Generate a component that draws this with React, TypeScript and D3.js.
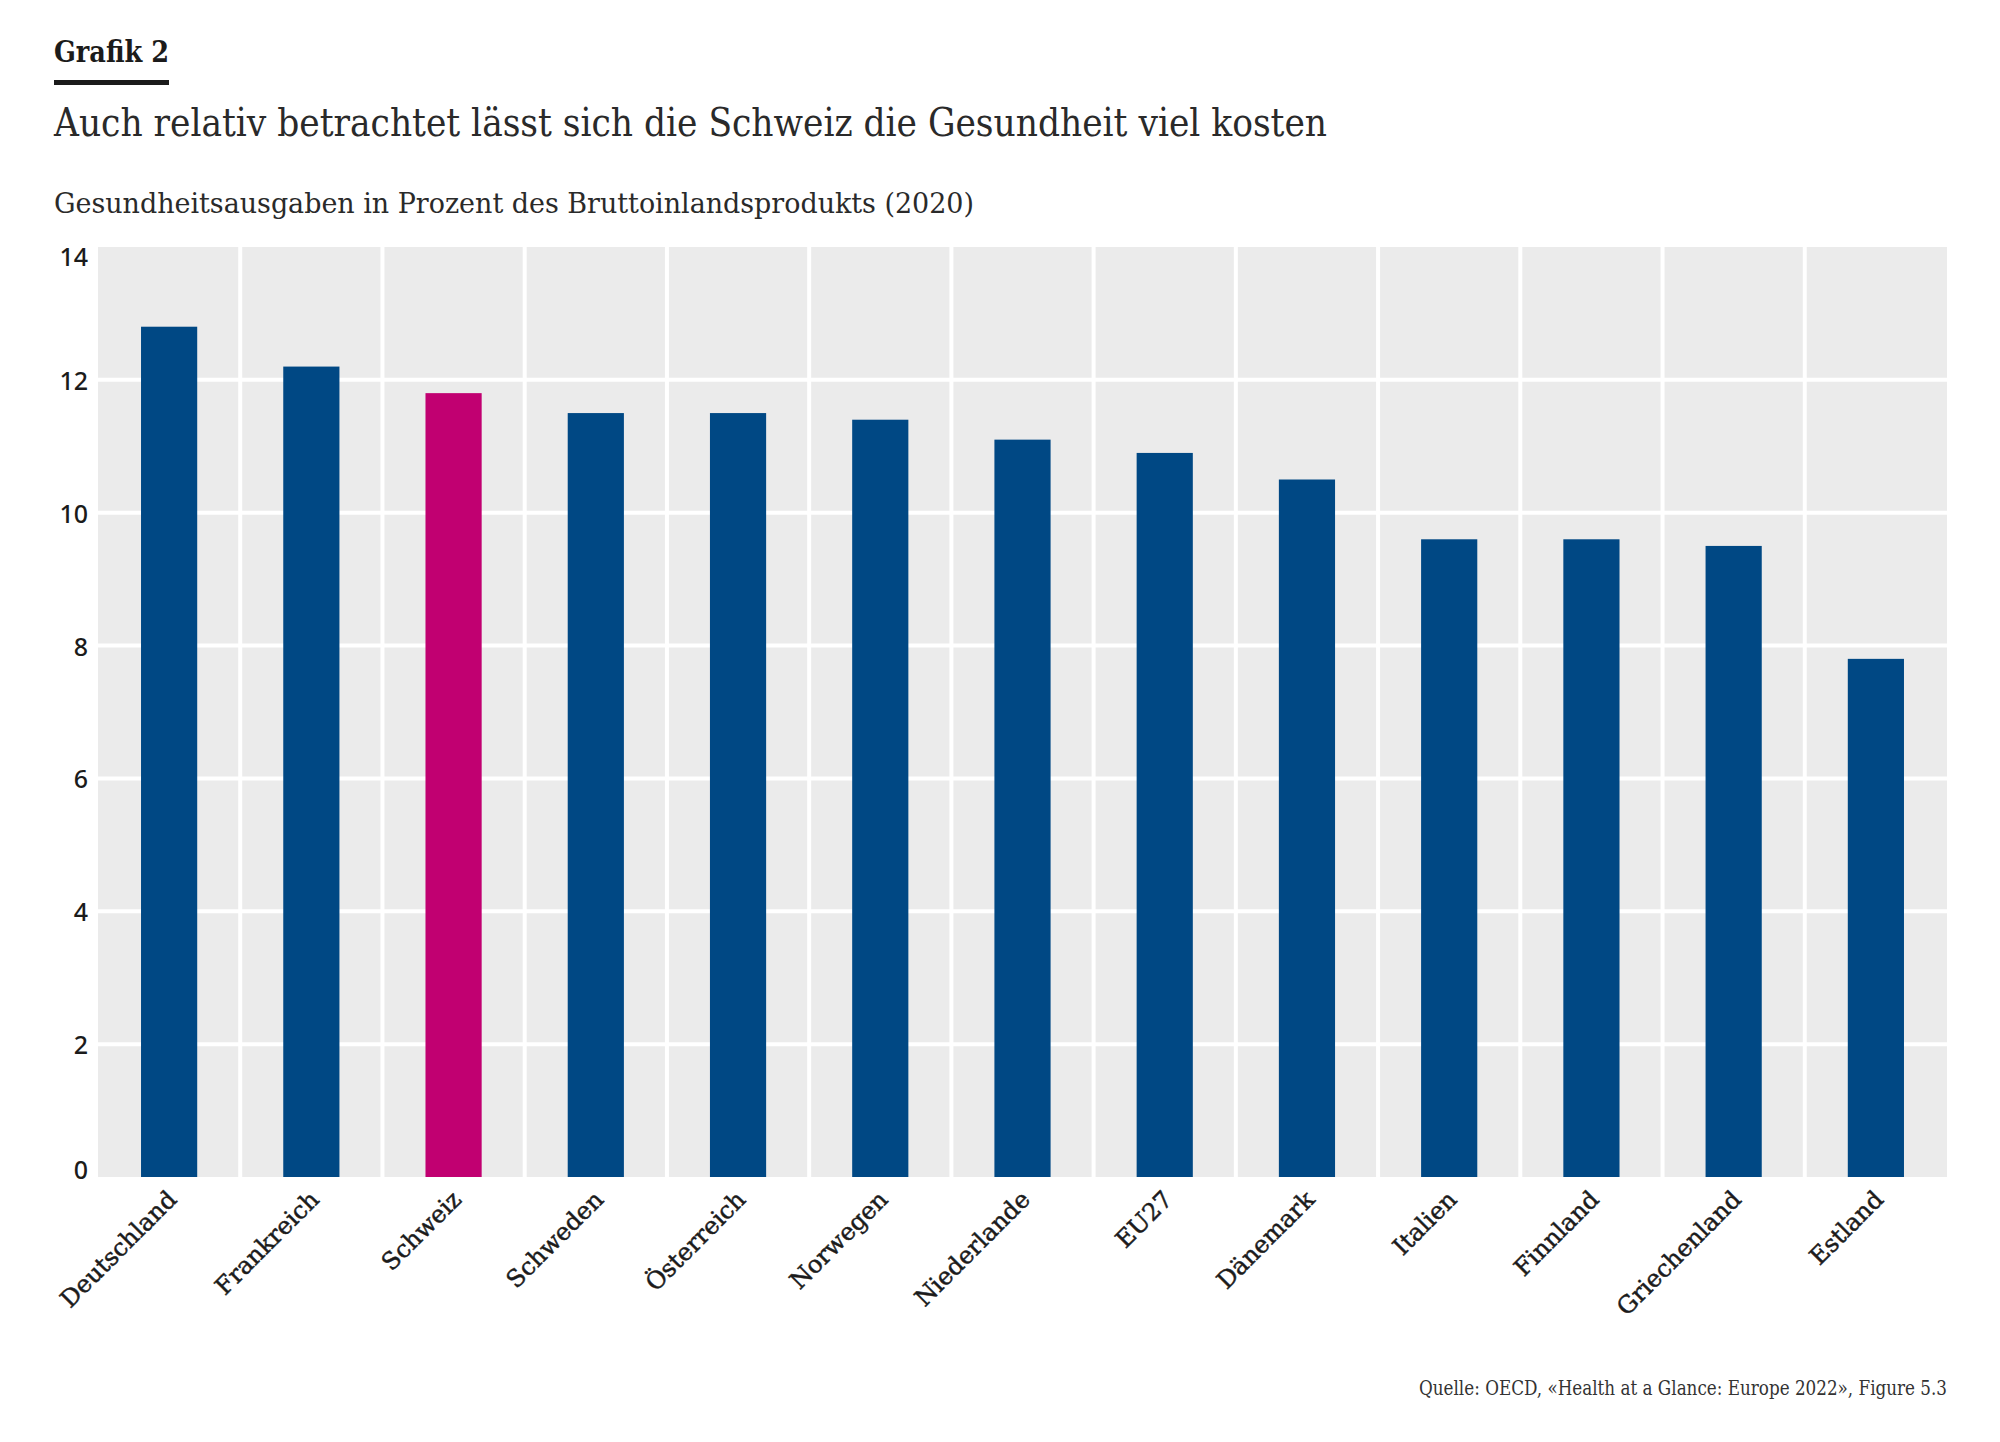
import React from "react";
import * as d3 from "d3";

const categories = ["Deutschland", "Frankreich", "Schweiz", "Schweden", "Österreich", "Norwegen", "Niederlande", "EU27", "Dänemark", "Italien", "Finnland", "Griechenland", "Estland"];
const values = [12.8, 12.2, 11.8, 11.5, 11.5, 11.4, 11.1, 10.9, 10.5, 9.6, 9.6, 9.5, 7.8];
const highlight = ["Schweiz"];
const yTicks = [0, 2, 4, 6, 8, 10, 12, 14];

const W = 2000;
const H = 1442;
const plot = { left: 98, right: 1947, top: 247, bottom: 1177 };
const BLUE = "#004884";
const MAGENTA = "#c10071";
const BG = "#ebebeb";
const TEXT = "#1b1b1b";
const SERIF_C = "'DejaVu Serif Condensed', 'DejaVu Serif', serif";
const SERIF = "'DejaVu Serif', serif";
const SANS = "'Noto Sans', 'Open Sans', sans-serif";

export default function App() {
  const x = d3.scaleBand<string>().domain(categories).range([plot.left, plot.right]).paddingInner(0).paddingOuter(0);
  const y = d3.scaleLinear().domain([0, 14]).range([plot.bottom, plot.top]);
  const bw = x.bandwidth();
  const barW = bw * 0.395;

  return (
    <svg width={W} height={H} style={{ display: "block", position: "absolute", left: 0, top: 0 }}>
      <rect x={0} y={0} width={W} height={H} fill="#ffffff" />
      <text x={54} y={62} fontFamily={SERIF_C} fontWeight={700} fontSize={30} fill={TEXT} textLength={115} lengthAdjust="spacingAndGlyphs">Grafik 2</text>
      <rect x={54} y={80} width={115} height={5} fill={TEXT} />
      <text x={54} y={136} fontFamily={SERIF_C} fontWeight={300} fontSize={40} fill="#2a2a2a" textLength={1273} lengthAdjust="spacingAndGlyphs">Auch relativ betrachtet lässt sich die Schweiz die Gesundheit viel kosten</text>
      <text x={54} y={213} fontFamily={SERIF_C} fontWeight={300} fontSize={28} fill="#2a2a2a" textLength={920} lengthAdjust="spacingAndGlyphs">Gesundheitsausgaben in Prozent des Bruttoinlandsprodukts (2020)</text>

      <rect x={plot.left} y={plot.top} width={plot.right - plot.left} height={plot.bottom - plot.top} fill={BG} />
      {yTicks.filter(t => t > 0 && t < 14).map(t => (
        <line key={"g" + t} x1={plot.left} x2={plot.right} y1={y(t)} y2={y(t)} stroke="#ffffff" strokeWidth={4} />
      ))}
      {categories.slice(1).map(c => (
        <line key={"v" + c} x1={x(c)!} x2={x(c)!} y1={plot.top} y2={plot.bottom} stroke="#ffffff" strokeWidth={4} />
      ))}
      {categories.map((c, i) => (
        <rect key={"b" + c} x={x(c)! + (bw - barW) / 2} y={y(values[i])} width={barW} height={plot.bottom - y(values[i])} fill={highlight.includes(c) ? MAGENTA : BLUE} />
      ))}
      {yTicks.map(t => {
        let off = 0;
        if (t === 14) off = 9;
        if (t === 0) off = -8;
        return (
          <text key={"t" + t} x={88} y={y(t) + off} textAnchor="end" dominantBaseline="central" fontFamily={SANS} fontWeight={500} fontSize={25} fill={TEXT}>{t}</text>
        );
      })}
      {categories.map(c => {
        const cx = x(c)! + bw / 2 + 9;
        const cy = plot.bottom + 24;
        return (
          <text key={"l" + c} transform={`translate(${cx},${cy}) rotate(-45)`} textAnchor="end" fontFamily={SERIF} fontSize={24} fill={TEXT} stroke={TEXT} strokeWidth={0.5}>{c}</text>
        );
      })}
      <text x={1947} y={1395} textAnchor="end" fontFamily={SERIF_C} fontWeight={300} fontSize={20} fill="#333333" textLength={528} lengthAdjust="spacingAndGlyphs">Quelle: OECD, «Health at a Glance: Europe 2022», Figure 5.3</text>
    </svg>
  );
}
